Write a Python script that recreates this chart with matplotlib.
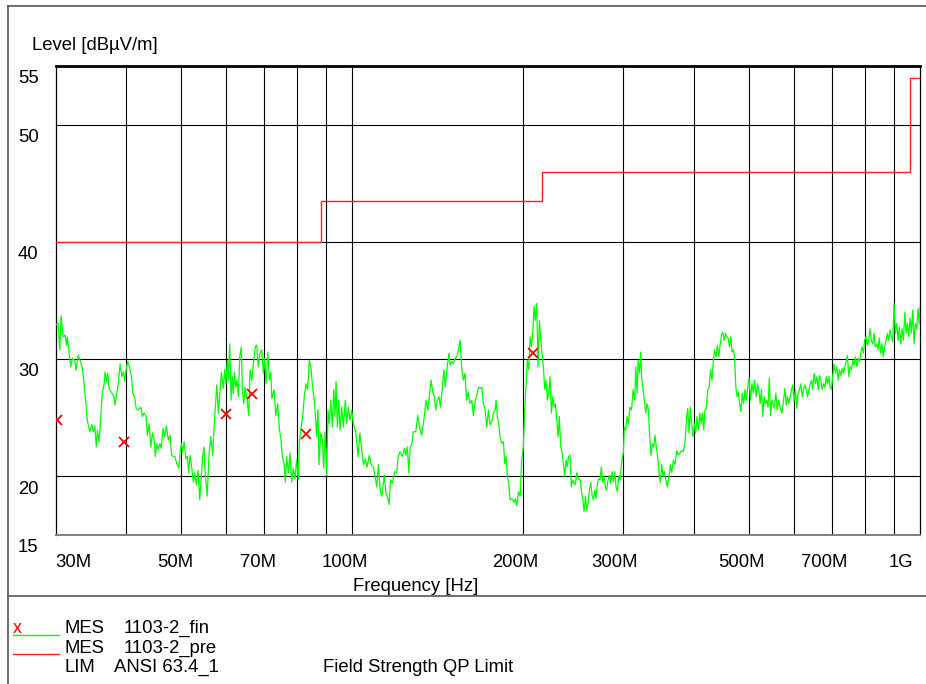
import matplotlib
matplotlib.use('Agg')
import matplotlib.pyplot as plt
from matplotlib.transforms import blended_transform_factory, ScaledTranslation
from matplotlib.lines import Line2D
from matplotlib.ticker import NullLocator, FixedLocator

plt.rcParams['font.family'] = ['Liberation Sans', 'DejaVu Sans']

# ---------------- data ----------------
scan_freq_mhz = [
30.0, 30.31, 30.53, 30.69, 30.94, 31.2, 31.36, 31.49, 31.7, 31.91,
32.12, 32.44, 32.61, 32.88, 33.15, 33.46, 33.68, 33.9, 34.13, 34.47,
34.75, 34.98, 35.18, 35.4, 35.55, 35.8, 36.03, 36.27, 36.53, 36.68,
36.93, 37.08, 37.28, 37.6, 38.03, 38.2, 38.46, 38.67, 38.99, 39.25,
39.5, 39.73, 39.98, 40.22, 40.48, 40.82, 41.05, 41.38, 41.6, 41.93,
42.4, 42.68, 42.97, 43.32, 43.55, 43.85, 44.15, 44.44, 44.75, 44.98,
45.24, 45.47, 45.84, 46.07, 46.4, 46.72, 47.02, 47.4, 47.73, 48.05,
48.38, 48.66, 49.06, 49.46, 49.72, 49.98, 50.27, 50.54, 50.89, 51.2,
51.5, 51.77, 52.12, 52.47, 52.77, 53.1, 53.48, 53.85, 54.13, 54.5,
54.8, 55.0, 55.5, 55.9, 56.3, 56.77, 57.07, 57.47, 57.7, 58.07,
58.48, 58.79, 59.26, 59.6, 59.9, 60.22, 60.47, 60.81, 61.14, 61.46,
61.7, 61.95, 62.3, 62.64, 62.97, 63.33, 63.74, 64.0, 64.37, 64.7,
65.15, 65.68, 66.03, 66.49, 66.92, 67.46, 67.84, 68.28, 68.76, 69.24,
69.69, 70.09, 70.46, 70.96, 71.42, 71.83, 72.12, 72.79, 73.29, 73.88,
74.36, 74.88, 75.27, 75.79, 76.18, 76.62, 77.11, 77.63, 78.15, 78.68,
79.23, 79.77, 80.3, 80.62, 81.18, 81.74, 82.26, 82.84, 83.41, 83.97,
84.55, 85.14, 85.69, 86.17, 86.5, 86.98, 87.33, 87.93, 88.51, 89.02,
89.49, 90.1, 90.59, 91.07, 91.59, 92.19, 92.72, 93.21, 93.58, 94.08,
94.62, 95.12, 95.77, 96.39, 97.18, 97.73, 98.36, 99.04, 99.72, 100.4,
101.4, 102.3, 103.1, 104.0, 104.6, 105.4, 106.1, 107.1, 107.9, 108.9,
109.6, 110.4, 111.1, 112.0, 112.7, 113.8, 114.6, 115.5, 116.1, 116.7,
117.7, 118.6, 119.7, 120.4, 121.3, 122.5, 123.5, 124.2, 125.0, 125.7,
126.4, 127.2, 128.1, 129.3, 130.3, 131.6, 132.5, 133.6, 134.8, 135.8,
136.6, 137.6, 138.5, 139.4, 140.2, 141.1, 142.1, 142.9, 144.1, 144.9,
145.7, 146.7, 147.9, 148.6, 149.6, 150.6, 151.6, 152.7, 153.7, 154.8,
155.8, 156.8, 157.9, 158.9, 160.0, 161.1, 162.3, 163.3, 164.5, 165.6,
166.7, 168.0, 169.0, 170.1, 171.3, 172.5, 173.6, 174.8, 176.0, 177.2,
178.4, 179.1, 180.0, 181.0, 182.0, 183.3, 184.5, 185.5, 186.5, 187.5,
188.5, 189.5, 191.0, 192.6, 193.7, 194.8, 196.0, 197.4, 198.7, 200.0,
201.2, 202.3, 203.3, 204.5, 205.6, 206.7, 207.8, 208.9, 210.0, 211.2,
212.3, 213.5, 214.7, 215.8, 217.0, 218.2, 219.3, 220.5, 221.7, 222.9,
224.1, 225.4, 226.6, 227.8, 229.0, 230.2, 231.4, 232.8, 234.0, 235.3,
236.6, 237.8, 239.0, 240.4, 241.7, 243.0, 244.4, 245.7, 247.0, 248.4,
250.0, 251.8, 253.1, 254.6, 255.9, 257.3, 258.7, 260.0, 261.4, 262.9,
264.3, 265.7, 267.2, 268.6, 270.0, 271.5, 273.0, 274.4, 276.0, 277.4,
278.9, 280.4, 281.9, 283.5, 285.1, 286.6, 288.1, 289.8, 291.3, 292.9,
294.5, 296.1, 298.1, 300.0, 301.3, 302.9, 304.6, 306.4, 308.0, 310.2,
312.2, 314.3, 315.6, 317.3, 318.6, 320.4, 321.9, 323.2, 324.9, 326.7,
328.6, 330.3, 332.1, 333.9, 335.7, 337.4, 339.3, 341.1, 343.0, 344.9,
346.8, 348.6, 350.6, 352.4, 354.3, 356.3, 358.5, 361.1, 363.0, 365.1,
367.5, 370.0, 372.6, 375.0, 377.6, 380.1, 382.7, 385.3, 388.0, 389.6,
391.6, 393.7, 395.9, 398.0, 400.0, 402.3, 404.5, 406.7, 409.0, 411.2,
413.3, 415.7, 417.8, 420.0, 422.5, 424.9, 427.3, 429.8, 432.2, 434.5,
437.1, 439.4, 441.9, 444.4, 446.8, 449.1, 451.6, 454.0, 456.4, 459.0,
461.4, 463.8, 466.3, 468.6, 471.0, 473.5, 475.9, 478.2, 480.7, 483.3,
486.0, 488.8, 491.4, 494.1, 496.8, 499.6, 502.5, 505.4, 508.2, 511.0,
514.0, 516.8, 519.6, 522.6, 525.3, 528.1, 531.1, 533.8, 536.6, 539.6,
542.3, 545.1, 548.1, 550.6, 553.7, 556.9, 559.9, 563.0, 566.2, 570.9,
574.6, 577.9, 580.9, 583.9, 587.2, 590.2, 593.3, 596.5, 599.5, 602.8,
606.3, 609.6, 612.9, 616.5, 619.8, 623.1, 626.6, 630.0, 633.2, 636.8,
640.1, 643.4, 647.0, 650.2, 653.8, 657.6, 661.2, 664.7, 668.6, 672.1,
675.7, 679.5, 683.1, 686.6, 690.4, 694.0, 697.5, 701.5, 705.3, 709.1,
713.2, 717.1, 720.9, 725.0, 728.9, 732.7, 736.8, 740.6, 744.4, 748.5,
752.6, 756.6, 761.0, 765.0, 769.1, 773.4, 777.5, 781.6, 786.0, 790.0,
794.1, 798.4, 802.7, 807.0, 811.7, 816.0, 820.3, 825.0, 829.3, 833.7,
838.3, 842.7, 847.0, 851.7, 856.4, 861.0, 866.1, 870.7, 875.4, 880.4,
885.0, 889.6, 894.6, 899.3, 904.1, 909.4, 914.3, 919.2, 924.4, 929.3,
934.2, 939.5, 944.4, 949.3, 954.6, 959.7, 964.8, 970.4, 975.4, 980.6,
986.1, 991.2, 996.5, 1000.0]

scan_level_db = [
32.9, 33.05, 30.8, 33.7, 31.9, 32.05, 31.2, 31.9, 30.5, 29.35,
30.06, 29.9, 29.07, 30.35, 29.9, 29.2, 27.9, 26.5, 24.8, 23.8,
24.4, 23.8, 24.3, 22.5, 23.95, 22.95, 24.95, 27.2, 27.8, 28.9,
28.1, 28.8, 27.5, 27.2, 26.8, 26.1, 27.1, 27.8, 29.6, 28.5,
28.9, 28.1, 29.2, 29.8, 29.35, 28.5, 27.1, 26.65, 25.8, 25.65,
25.9, 25.1, 25.4, 25.1, 23.5, 24.5, 22.5, 23.7, 23.1, 21.7,
22.8, 22.3, 22.8, 22.4, 24.1, 23.4, 24.3, 23.1, 23.5, 21.8,
21.7, 21.7, 21.1, 20.7, 22.0, 22.8, 22.1, 22.95, 21.5, 21.7,
20.3, 21.8, 20.8, 19.5, 20.3, 19.3, 20.5, 18.0, 19.7, 21.7,
22.5, 20.5, 18.3, 21.8, 23.4, 21.8, 24.2, 26.5, 27.8, 25.4,
27.4, 28.9, 27.5, 29.1, 27.9, 29.9, 28.2, 31.3, 26.5, 28.5,
27.1, 28.9, 27.6, 28.2, 26.8, 30.2, 31.05, 27.4, 26.2, 27.6,
26.8, 25.2, 29.1, 28.2, 29.6, 31.05, 31.2, 29.35, 30.5, 30.8,
28.8, 30.06, 27.9, 30.6, 28.2, 28.9, 26.65, 27.4, 25.2, 26.2,
24.1, 23.1, 21.7, 21.1, 19.5, 21.7, 20.3, 22.0, 19.5, 20.7,
19.8, 21.4, 19.7, 22.8, 24.1, 25.1, 26.8, 27.9, 27.4, 29.9,
29.2, 27.5, 26.5, 24.8, 23.4, 25.7, 21.0, 23.7, 23.1, 20.7,
23.8, 20.1, 25.65, 24.5, 26.5, 24.2, 27.4, 25.1, 28.1, 24.2,
26.5, 23.95, 25.9, 24.2, 26.5, 24.5, 25.9, 24.8, 25.65, 24.5,
23.8, 21.7, 23.7, 22.0, 21.0, 21.5, 20.8, 21.8, 21.0, 20.8,
20.0, 19.1, 21.0, 18.7, 18.3, 20.1, 18.55, 18.1, 17.6, 19.7,
19.4, 20.4, 20.3, 21.7, 22.1, 21.7, 22.4, 21.8, 22.5, 20.3,
22.5, 22.7, 23.8, 23.8, 25.2, 23.95, 23.5, 24.8, 26.5, 25.65,
26.8, 28.2, 27.2, 26.8, 25.65, 26.5, 26.8, 25.9, 27.6, 29.1,
27.6, 29.1, 30.5, 29.5, 29.8, 29.6, 30.06, 30.2, 30.8, 31.6,
29.2, 28.2, 28.8, 26.5, 27.2, 26.2, 26.5, 25.2, 26.4, 26.9,
27.6, 27.5, 27.6, 26.2, 25.65, 24.2, 25.65, 24.4, 24.7, 25.4,
25.65, 26.5, 25.1, 24.5, 23.4, 22.8, 22.95, 21.1, 21.7, 20.0,
19.4, 18.0, 18.1, 17.8, 18.1, 17.5, 18.7, 18.3, 21.4, 22.5,
25.9, 27.9, 29.9, 29.1, 31.9, 31.05, 32.3, 34.5, 33.3, 34.75,
29.35, 33.3, 31.6, 30.5, 29.2, 27.4, 28.2, 26.5, 27.1, 28.5,
25.4, 26.8, 25.9, 26.2, 24.95, 23.4, 25.1, 22.5, 22.0, 21.1,
20.0, 21.4, 20.8, 21.7, 21.8, 19.1, 19.7, 19.4, 19.3, 20.3,
19.8, 19.7, 18.8, 18.0, 17.0, 18.3, 17.1, 17.7, 18.8, 19.5,
18.4, 18.0, 18.8, 18.1, 19.4, 19.8, 19.7, 20.8, 19.5, 20.0,
19.1, 18.8, 19.7, 20.1, 19.4, 20.4, 19.5, 20.4, 19.1, 18.7,
20.0, 19.7, 21.25, 22.0, 24.2, 23.95, 25.1, 24.5, 25.9, 25.65,
27.4, 26.5, 29.35, 27.1, 29.9, 28.8, 30.6, 28.5, 27.4, 26.5,
25.4, 26.2, 25.65, 23.4, 21.8, 22.8, 22.5, 23.5, 22.5, 21.7,
20.3, 19.5, 21.0, 20.0, 20.4, 19.8, 19.1, 20.0, 21.0, 20.3,
21.4, 21.0, 22.2, 21.8, 22.0, 22.2, 22.1, 22.95, 25.1, 25.8,
23.7, 25.9, 24.5, 23.4, 24.5, 23.7, 25.1, 23.95, 25.4, 24.5,
25.4, 23.95, 25.65, 25.8, 27.4, 27.6, 29.1, 28.2, 29.9, 30.8,
30.2, 31.2, 30.2, 31.3, 32.05, 32.3, 31.6, 32.2, 31.9, 31.8,
31.05, 31.9, 30.6, 30.8, 30.2, 27.6, 26.8, 27.2, 26.2, 25.5,
27.1, 26.2, 27.4, 26.5, 27.6, 28.4, 26.5, 27.9, 27.1, 28.2,
26.8, 27.9, 27.4, 26.2, 27.4, 25.1, 26.8, 26.2, 26.5, 25.9,
28.4, 25.2, 26.5, 26.2, 25.8, 27.1, 25.65, 26.5, 25.9, 25.4,
26.5, 27.5, 26.1, 26.8, 26.2, 26.8, 27.4, 27.8, 26.4, 27.4,
25.8, 27.1, 27.4, 27.9, 26.8, 27.4, 27.8, 27.4, 26.8, 27.4,
27.9, 28.2, 27.4, 28.8, 27.9, 28.5, 27.4, 28.6, 28.2, 27.4,
27.9, 27.6, 28.5, 27.9, 28.5, 27.6, 27.4, 28.5, 29.6, 28.8,
29.35, 28.2, 29.1, 28.6, 29.2, 28.8, 29.35, 29.8, 30.3, 28.5,
29.35, 29.1, 29.9, 29.5, 30.2, 29.35, 30.06, 29.8, 30.5, 31.05,
30.5, 31.6, 31.9, 31.2, 31.6, 32.6, 31.6, 31.3, 32.2, 31.05,
31.3, 30.8, 31.8, 30.5, 31.3, 30.2, 31.05, 31.6, 32.2, 31.6,
32.5, 31.9, 31.5, 34.75, 32.2, 33.05, 31.6, 32.75, 31.3, 32.6,
31.6, 34.0, 32.2, 33.05, 31.9, 33.5, 32.2, 34.2, 31.3, 33.05,
32.5, 34.3, 33.05, 34.5]

final_freq_mhz = [30.24, 39.62, 59.9, 66.5, 82.8, 208.3]
final_level_db = [24.8, 22.95, 25.3, 27.0, 23.6, 30.5]

limit_freq_mhz = [30, 88, 216, 960, 1000]
limit_level_db = [40, 43.5, 46, 54, 54]

grid_freq_mhz = [40, 50, 60, 70, 80, 90, 100, 200, 300, 400, 500, 600, 700, 800, 900]
grid_level_db = [20, 30, 40, 50]

xtick_freq_mhz = [30, 50, 70, 100, 200, 300, 500, 700, 1000]
xtick_labels = ['30M', '50M', '70M', '100M', '200M', '300M', '500M', '700M', '1G']
ytick_levels = [55, 50, 40, 30, 20, 15]
ytick_labels = ['55', '50', '40', '30', '20', '15']

# ---------------- figure ----------------
W, H = 926, 684
fig = plt.figure(figsize=(W / 100, H / 100), dpi=100)
fig.patch.set_facecolor('white')

def fx(px):
    return px / W

def fy(py):
    return 1 - py / H

ax = fig.add_axes([fx(55.5), fy(535), fx(920.2) - fx(55.5), fy(66) - fy(535)])
ax.set_xscale('log')
ax.set_xlim(30, 1000)
ax.set_ylim(15, 55)

ax.xaxis.set_major_locator(FixedLocator(grid_freq_mhz))
ax.xaxis.set_minor_locator(NullLocator())
ax.yaxis.set_major_locator(FixedLocator(grid_level_db))
ax.yaxis.set_minor_locator(NullLocator())
ax.tick_params(which='both', length=0, labelbottom=False, labelleft=False)
ax.grid(True, color='black', lw=0.8)
ax.set_axisbelow(True)

for side in ['left', 'right']:
    ax.spines[side].set_color('black')
    ax.spines[side].set_linewidth(0.9)
ax.spines['top'].set_color('black')
ax.spines['top'].set_linewidth(2.0)
ax.spines['bottom'].set_color('#7f7f7f')
ax.spines['bottom'].set_linewidth(1.4)

ax.step(limit_freq_mhz, limit_level_db, where='post', color='#ff2020', lw=1.0, zorder=3)
ax.plot(scan_freq_mhz, scan_level_db, color='#00ff00', lw=0.9, zorder=4)
ax.plot(final_freq_mhz, final_level_db, linestyle='none', marker='x',
        color='#ff0000', ms=6.5, mew=1.3, zorder=5)

FS = 13.3
# x tick labels (drawn as text, slightly left of the grid lines like the original)
xoff_px = [0, -6, -6, -8, -8.5, -8.5, -8, -8.5, -19]
xha = ['left'] + ['center'] * 8
for f, lab, dx, ha in zip(xtick_freq_mhz, xtick_labels, xoff_px, xha):
    tr = blended_transform_factory(ax.transData, fig.transFigure) + \
        ScaledTranslation(dx / 100, 0, fig.dpi_scale_trans)
    ax.text(f, fy(567.3), lab, transform=tr, ha=ha, va='baseline', fontsize=FS,
            clip_on=False)

# y tick labels
for v, lab in zip(ytick_levels, ytick_labels):
    tr = blended_transform_factory(fig.transFigure, ax.transData) + \
        ScaledTranslation(0, -17.3 / 100, fig.dpi_scale_trans)
    ax.text(fx(18), v, lab, transform=tr, ha='left', va='baseline', fontsize=FS,
            clip_on=False)

fig.text(fx(31.7), fy(50), 'Level [dBµV/m]', ha='left', va='baseline', fontsize=FS)
fig.text(fx(416), fy(591), 'Frequency [Hz]', ha='center', va='baseline', fontsize=FS)

# outer frame
frame_kw = dict(transform=fig.transFigure, color='#555555', lw=1.2)
fig.add_artist(Line2D([fx(8), fx(8)], [fy(6), fy(684)], **frame_kw))
fig.add_artist(Line2D([fx(8), fx(926)], [fy(6), fy(6)], **frame_kw))
fig.add_artist(Line2D([fx(8), fx(926)], [fy(596), fy(596)], **frame_kw))

# legend block
LFS = 13.3
fig.text(fx(12.5), fy(633), 'x', color='#ff0000', ha='left', va='baseline', fontsize=13)
fig.add_artist(Line2D([fx(13), fx(58.5)], [fy(634.8), fy(634.8)], transform=fig.transFigure,
                      color='#00ff00', lw=1.0))
fig.add_artist(Line2D([fx(13), fx(58.5)], [fy(654.3), fy(654.3)], transform=fig.transFigure,
                      color='#ff2020', lw=1.0))
legend_rows = [
    ('MES', '1103-2_fin', '', 633.3, 123.2),
    ('MES', '1103-2_pre', '', 652.8, 123.2),
    ('LIM', 'ANSI 63.4_1', 'Field Strength QP Limit', 671.7, 113.7),
]
for kind, name, desc, yb, xn in legend_rows:
    fig.text(fx(64.3), fy(yb), kind, ha='left', va='baseline', fontsize=LFS)
    fig.text(fx(xn), fy(yb), name, ha='left', va='baseline', fontsize=LFS)
    if desc:
        fig.text(fx(322.6), fy(yb), desc, ha='left', va='baseline', fontsize=LFS)

fig.savefig('out.png', dpi=100, facecolor='white')
